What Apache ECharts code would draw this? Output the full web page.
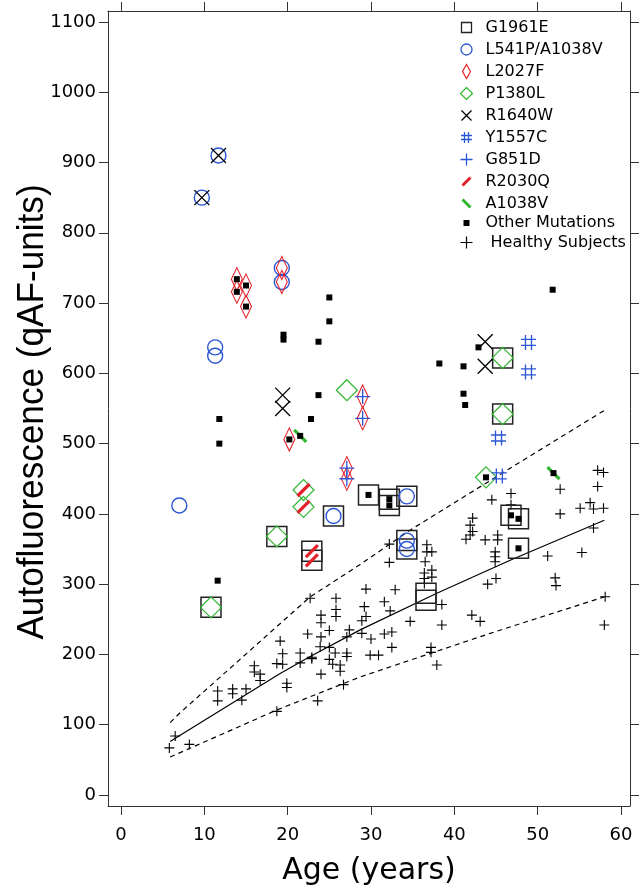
<!DOCTYPE html>
<html><head><meta charset="utf-8">
<script src="https://cdn.jsdelivr.net/npm/echarts@6/dist/echarts.min.js"></script>
<style>html,body{margin:0;padding:0;background:#fff}#c{width:643px;height:894px}</style>
</head><body><div id="c"></div>
<script>
// ---- tick labels ----
const ageTicks = [0, 10, 20, 30, 40, 50, 60];
const afTicks = [0, 100, 200, 300, 400, 500, 600, 700, 800, 900, 1000, 1100];

// ---- mutation groups: [age (years), qAF] ----
const g1961e = [[10.8,267],[18.7,368],[22.9,347],[22.9,334],[25.5,397],[29.7,427],[32.2,421],[32.2,412],[34.3,425],[34.3,362],[34.3,350],[36.6,287],[36.6,277],[45.8,622],[45.8,542],[46.8,398],[47.7,393],[47.7,351]];
const l541p = [[11.7,910],[9.7,850],[19.3,750],[19.3,730],[11.3,637],[11.3,625],[7.0,412],[25.5,397],[34.3,425],[34.3,362],[34.3,350]];
const l2027f = [[13.9,734],[13.9,716],[15.0,725],[15.0,695],[19.3,750],[19.3,730],[20.2,506],[29.0,567],[29.0,536],[27.1,465],[27.1,450]];
const p1380l = [[10.8,267],[18.7,368],[21.9,434],[21.9,410],[27.1,576],[45.8,622],[45.8,542],[43.8,452]];
const r1640w = [[11.7,910],[9.7,850],[19.4,569],[19.4,550],[43.7,645],[43.7,610]];
const y1557c = [[48.9,644],[48.9,602],[45.3,508],[45.4,454]];
const g851d = [[29.0,567],[29.0,536],[27.1,465],[27.1,450]];
const r2030q = [[21.9,434],[21.9,410],[22.9,347],[22.9,334]];
const a1038v = [[21.5,511],[51.9,458]];
const otherMut = [[13.9,734],[13.9,716],[15.0,725],[15.0,695],[25.0,708],[25.0,674],[19.5,655],[19.5,648],[23.7,645],[23.7,569],[11.8,535],[11.8,500],[22.8,535],[20.2,506],[21.5,511],[11.6,305],[29.7,427],[32.2,421],[32.2,412],[51.8,719],[42.9,637],[38.2,614],[41.1,610],[41.1,571],[41.3,555],[43.8,452],[51.9,458],[46.8,398],[47.7,393],[47.7,351]];

// ---- healthy subjects ----
const healthy = [[6.5,84],[5.8,67],[8.2,72],[11.6,148],[11.6,134],[13.4,151],[13.4,144],[15.0,151],[14.5,135],[16.0,184],[16.0,175],[16.7,172],[16.7,163],[18.7,119],[19.1,219],[19.4,201],[18.7,187],[19.4,186],[19.9,159],[19.9,153],[21.5,202],[21.5,188],[22.4,229],[22.7,280],[22.9,196],[22.9,194],[23.6,134],[24.0,172],[24.0,256],[24.0,245],[24.0,225],[23.9,211],[25.0,234],[25.0,210],[25.8,280],[25.8,264],[25.8,254],[25.7,202],[25.0,193],[25.4,186],[26.3,176],[26.3,185],[27.1,202],[27.1,197],[27.1,225],[27.4,235],[26.7,157],[29.2,268],[29.4,293],[28.9,248],[29.4,254],[28.9,230],
[57.2,462],[57.9,459],[52.7,435],[57.2,439],[46.8,429],[44.5,420],[46.8,413],[55.1,408],[56.3,416],[56.7,407],[57.9,408],[52.7,400],[56.7,380],[42.2,394],[41.9,384],[42.2,375],[41.9,370],[41.4,364],[43.7,363],[45.2,370],[45.2,363],[44.9,346],[44.9,339],[44.9,332],[45.0,308],[44.0,300],[51.2,340],[55.3,345],[52.1,309],[52.2,298],[42.1,256],[43.1,247],[58.1,282],[58.0,242],[38.5,271],[38.5,242],[34.7,247],[37.2,210],[37.2,203],[37.9,185],[32.2,357],[32.2,331],[36.7,356],[36.7,346],[37.3,346],[36.5,332],[36.4,316],[36.4,308],[36.4,301],[37.3,320],[37.3,310],[32.9,292],[31.6,275],[32.3,262],[30.0,222],[31.6,229],[32.5,232],[32.5,210],[29.9,199],[30.9,199]];

// ---- healthy mean and limits ----
const meanLine = [[5.9,76],[7.1,85],[19.1,173],[22.7,197],[28.7,235],[37.9,287],[46.7,334],[58.0,391]];
const upperLine = [[5.9,103],[7.0,116],[22.7,282],[28.7,328],[34.7,377],[46.7,465],[58.1,548]];
const lowerLine = [[5.9,54],[18.7,121],[28.7,168],[44.3,230],[58.0,282]];

const BLUE = '#2a55d4', RED = '#e3212b', GREEN = '#2fb52f', BLK = '#222';
const FONT = "'DejaVu Sans', Verdana, sans-serif";

const P = {
  x: 'path://M0,0L10,10M10,0L0,10',
  hash: 'path://M3,0L3,10M7,0L7,10M0,3L10,3M0,7L10,7',
  plus: 'path://M5,0L5,10M0,5L10,5',
  slash: 'path://M0,10L10,0',
  bslash: 'path://M0,0L10,10'
};
const L = {
  box: 'path://M0,0M20,20M5,5L15,5L15,15L5,15Z',
  circ: 'path://M0,0M20,20M4.5,10A5.5,5.5 0 1 1 15.5,10A5.5,5.5 0 1 1 4.5,10Z',
  ndia: 'path://M0,0M20,20M10,3L14,10L10,17L6,10Z',
  dia: 'path://M0,0M20,20M10,4L16,10L10,16L4,10Z',
  x: 'path://M0,0M20,20M5,5L15,15M15,5L5,15',
  hash: 'path://M0,0M20,20M8,4.5L8,15.5M12,4.5L12,15.5M4.5,8L15.5,8M4.5,12L15.5,12',
  plus: 'path://M0,0M20,20M10,4L10,16M4,10L16,10',
  slash: 'path://M0,0M20,20M6,14L14,6',
  bslash: 'path://M0,0M20,20M6,6L14,14',
  sq: 'path://M0,0M20,20M7,7L13,7L13,13L7,13Z',
  hplus: 'path://M0,0M20,20M4,10L16,10M10,4L10,16'
};

function sc(name, data, symbol, size, stroke, width, fill, z) {
  return {
    type: 'scatter', name: name, data: data, symbol: symbol, symbolSize: size,
    itemStyle: { color: fill || 'none', borderColor: stroke, borderWidth: width, opacity: 1 },
    emphasis: { disabled: true }, silent: true, z: z || 3
  };
}
function ln(data, dashed) {
  return {
    type: 'line', data: data, symbol: 'none', silent: true, z: 2,
    lineStyle: { color: '#000', width: 1.2, type: dashed ? [5, 4] : 'solid' }
  };
}

const chart = echarts.init(document.getElementById('c'), null, { renderer: 'canvas' });
const axisCommon = {
  type: 'value', splitLine: { show: false },
  axisLine: { show: true, onZero: false, lineStyle: { color: '#333', width: 1 } },
  axisTick: { show: true, inside: false, length: 9, lineStyle: { color: '#333', width: 1 } }
};
const plain = function (v) { return String(v); };
chart.setOption({
  animation: false,
  backgroundColor: '#fff',
  grid: { left: 108, right: 13, top: 11, bottom: 88, containLabel: false },
  graphic: [{
    type: 'text', x: 33, y: 412, rotation: Math.PI / 2, scaleX: 0.95, silent: true,
    style: {
      text: 'Autofluorescence (qAF-units)', fill: '#000',
      font: "37px 'Liberation Sans', Arial, sans-serif",
      align: 'center', verticalAlign: 'middle', textAlign: 'center', textVerticalAlign: 'middle'
    }
  }],
  xAxis: [
    Object.assign({}, axisCommon, {
      min: -1.56, max: 61.08, position: 'bottom',
      axisTick: Object.assign({}, axisCommon.axisTick, { customValues: ageTicks }),
      axisLabel: { customValues: ageTicks, formatter: plain, fontSize: 18, fontFamily: FONT, color: '#000', margin: 20 },
      name: 'Age (years)', nameLocation: 'middle', nameGap: 50,
      nameTextStyle: { fontSize: 30, fontFamily: FONT, color: '#000' }
    }),
    Object.assign({}, axisCommon, {
      min: -1.56, max: 61.08, position: 'top',
      axisTick: Object.assign({}, axisCommon.axisTick, { customValues: ageTicks }),
      axisLabel: { show: false }
    })
  ],
  yAxis: [
    Object.assign({}, axisCommon, {
      min: -15.65, max: 1115.6, position: 'left',
      axisTick: Object.assign({}, axisCommon.axisTick, { customValues: afTicks }),
      axisLabel: { customValues: afTicks, formatter: plain, fontSize: 18, fontFamily: FONT, color: '#000', margin: 12 }
    }),
    Object.assign({}, axisCommon, {
      min: -15.65, max: 1115.6, position: 'right',
      axisTick: Object.assign({}, axisCommon.axisTick, { customValues: afTicks }),
      axisLabel: { show: false }
    })
  ],
  legend: {
    orient: 'vertical', left: 454, top: 15, padding: 0, itemGap: -3,
    itemWidth: 28, itemHeight: 20, symbolKeepAspect: true,
    textStyle: { fontSize: 16, fontFamily: FONT, color: '#000' },
    selectedMode: false,
    data: [
      { name: 'G1961E', icon: L.box, itemStyle: { borderWidth: 1.3 } },
      { name: 'L541P/A1038V', icon: L.circ, itemStyle: { borderWidth: 1.3 } },
      { name: 'L2027F', icon: L.ndia, itemStyle: { borderWidth: 1.2 } },
      { name: 'P1380L', icon: L.dia, itemStyle: { borderWidth: 1.2 } },
      { name: 'R1640W', icon: L.x, itemStyle: { borderWidth: 1.3 } },
      { name: 'Y1557C', icon: L.hash, itemStyle: { borderWidth: 1.3 } },
      { name: 'G851D', icon: L.plus, itemStyle: { borderWidth: 1.3 } },
      { name: 'R2030Q', icon: L.slash, itemStyle: { borderWidth: 3 } },
      { name: 'A1038V', icon: L.bslash, itemStyle: { borderWidth: 3 } },
      { name: 'Other Mutations', icon: L.sq, itemStyle: { borderWidth: 0 } },
      { name: ' Healthy Subjects', icon: L.hplus, itemStyle: { borderWidth: 1.2 } }
    ]
  },
  series: [
    sc(' Healthy Subjects', healthy, P.plus, 10, '#000', 1.1, 'none', 2),
    ln(meanLine, false), ln(upperLine, true), ln(lowerLine, true),
    sc('G1961E', g1961e, 'rect', 20, BLK, 1.5, 'none', 3),
    sc('L541P/A1038V', l541p, 'circle', 15, BLUE, 1.4, 'none', 4),
    sc('L2027F', l2027f, 'diamond', [11, 23], RED, 1.2, 'none', 4),
    sc('P1380L', p1380l, 'diamond', [21, 21], GREEN, 1.2, 'none', 4),
    sc('R1640W', r1640w, P.x, 15, '#000', 1.3, 'none', 5),
    sc('Y1557C', y1557c, P.hash, 15, BLUE, 1.3, 'none', 5),
    sc('G851D', g851d, P.plus, 15, BLUE, 1.3, 'none', 5),
    sc('R2030Q', r2030q, P.slash, 12, RED, 3.2, 'none', 5),
    sc('A1038V', a1038v, P.bslash, 12, GREEN, 3.2, 'none', 5),
    sc('Other Mutations', otherMut, 'rect', 6, '#000', 0, '#000', 6)
  ]
});
</script></body></html>
